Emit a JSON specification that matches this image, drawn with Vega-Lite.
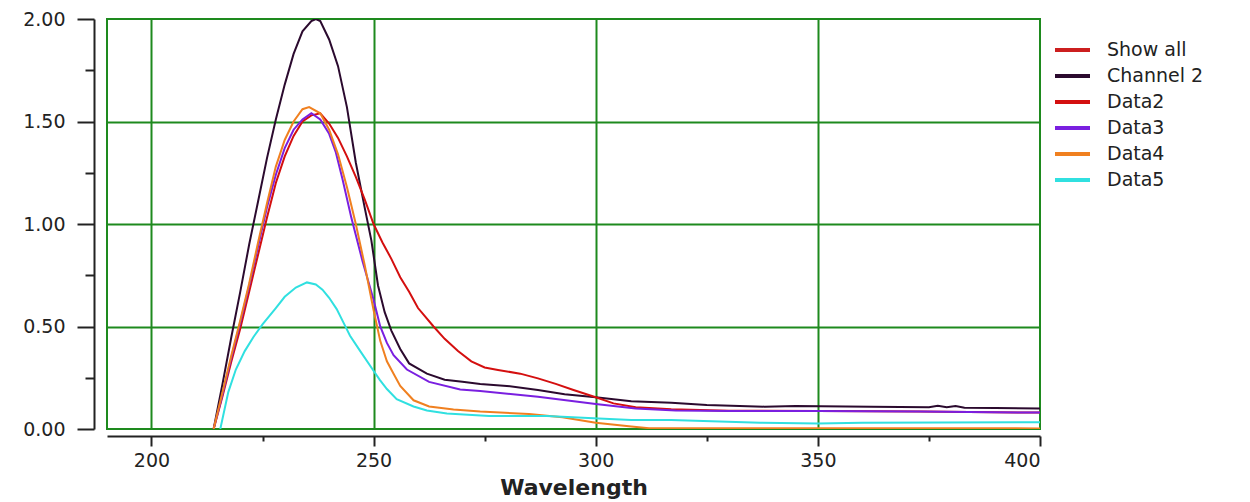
{
  "$schema": "https://vega.github.io/schema/vega-lite/v6.json",
  "width": 933,
  "height": 410,
  "autosize": {"type": "none"},
  "padding": {"left": 107, "top": 19, "right": 210, "bottom": 73},
  "background": "white",
  "config": {
    "view": {"stroke": "#1e8a1e", "strokeWidth": 2},
    "font": "DejaVu Sans"
  },
  "datasets": {
    "spectra": [
      {"series": "Channel 2", "wavelength": 214, "absorbance": 0},
      {"series": "Channel 2", "wavelength": 216, "absorbance": 0.22},
      {"series": "Channel 2", "wavelength": 218, "absorbance": 0.45},
      {"series": "Channel 2", "wavelength": 220, "absorbance": 0.67},
      {"series": "Channel 2", "wavelength": 222, "absorbance": 0.9},
      {"series": "Channel 2", "wavelength": 224, "absorbance": 1.11},
      {"series": "Channel 2", "wavelength": 226, "absorbance": 1.32},
      {"series": "Channel 2", "wavelength": 228, "absorbance": 1.51},
      {"series": "Channel 2", "wavelength": 230, "absorbance": 1.68},
      {"series": "Channel 2", "wavelength": 232, "absorbance": 1.83},
      {"series": "Channel 2", "wavelength": 234, "absorbance": 1.94},
      {"series": "Channel 2", "wavelength": 236, "absorbance": 1.99},
      {"series": "Channel 2", "wavelength": 237, "absorbance": 2.0},
      {"series": "Channel 2", "wavelength": 238, "absorbance": 1.99},
      {"series": "Channel 2", "wavelength": 240, "absorbance": 1.9},
      {"series": "Channel 2", "wavelength": 242, "absorbance": 1.77},
      {"series": "Channel 2", "wavelength": 244, "absorbance": 1.57},
      {"series": "Channel 2", "wavelength": 246, "absorbance": 1.3},
      {"series": "Channel 2", "wavelength": 248, "absorbance": 1.08},
      {"series": "Channel 2", "wavelength": 249.5, "absorbance": 0.92},
      {"series": "Channel 2", "wavelength": 251, "absorbance": 0.7},
      {"series": "Channel 2", "wavelength": 252.5, "absorbance": 0.57},
      {"series": "Channel 2", "wavelength": 254, "absorbance": 0.48},
      {"series": "Channel 2", "wavelength": 256, "absorbance": 0.39},
      {"series": "Channel 2", "wavelength": 258, "absorbance": 0.32},
      {"series": "Channel 2", "wavelength": 262, "absorbance": 0.27},
      {"series": "Channel 2", "wavelength": 266, "absorbance": 0.24},
      {"series": "Channel 2", "wavelength": 270, "absorbance": 0.23},
      {"series": "Channel 2", "wavelength": 274, "absorbance": 0.22},
      {"series": "Channel 2", "wavelength": 280, "absorbance": 0.21},
      {"series": "Channel 2", "wavelength": 287, "absorbance": 0.19},
      {"series": "Channel 2", "wavelength": 293, "absorbance": 0.17},
      {"series": "Channel 2", "wavelength": 300, "absorbance": 0.155},
      {"series": "Channel 2", "wavelength": 308, "absorbance": 0.135},
      {"series": "Channel 2", "wavelength": 317, "absorbance": 0.128},
      {"series": "Channel 2", "wavelength": 325, "absorbance": 0.117},
      {"series": "Channel 2", "wavelength": 338, "absorbance": 0.109},
      {"series": "Channel 2", "wavelength": 345, "absorbance": 0.112},
      {"series": "Channel 2", "wavelength": 362, "absorbance": 0.108},
      {"series": "Channel 2", "wavelength": 375, "absorbance": 0.106},
      {"series": "Channel 2", "wavelength": 377, "absorbance": 0.113},
      {"series": "Channel 2", "wavelength": 379, "absorbance": 0.106},
      {"series": "Channel 2", "wavelength": 381, "absorbance": 0.112},
      {"series": "Channel 2", "wavelength": 383, "absorbance": 0.104},
      {"series": "Channel 2", "wavelength": 390, "absorbance": 0.103},
      {"series": "Channel 2", "wavelength": 400, "absorbance": 0.1},

      {"series": "Data2", "wavelength": 214, "absorbance": 0},
      {"series": "Data2", "wavelength": 216, "absorbance": 0.16},
      {"series": "Data2", "wavelength": 218, "absorbance": 0.33},
      {"series": "Data2", "wavelength": 220, "absorbance": 0.49},
      {"series": "Data2", "wavelength": 222, "absorbance": 0.67},
      {"series": "Data2", "wavelength": 224, "absorbance": 0.85},
      {"series": "Data2", "wavelength": 226, "absorbance": 1.03},
      {"series": "Data2", "wavelength": 228, "absorbance": 1.2},
      {"series": "Data2", "wavelength": 230, "absorbance": 1.33},
      {"series": "Data2", "wavelength": 232, "absorbance": 1.43},
      {"series": "Data2", "wavelength": 234, "absorbance": 1.5},
      {"series": "Data2", "wavelength": 236, "absorbance": 1.53},
      {"series": "Data2", "wavelength": 238, "absorbance": 1.54},
      {"series": "Data2", "wavelength": 240, "absorbance": 1.49},
      {"series": "Data2", "wavelength": 242, "absorbance": 1.42},
      {"series": "Data2", "wavelength": 244, "absorbance": 1.33},
      {"series": "Data2", "wavelength": 246, "absorbance": 1.23},
      {"series": "Data2", "wavelength": 248, "absorbance": 1.12},
      {"series": "Data2", "wavelength": 250, "absorbance": 1.0},
      {"series": "Data2", "wavelength": 252, "absorbance": 0.91},
      {"series": "Data2", "wavelength": 254, "absorbance": 0.83},
      {"series": "Data2", "wavelength": 256, "absorbance": 0.74},
      {"series": "Data2", "wavelength": 258, "absorbance": 0.67},
      {"series": "Data2", "wavelength": 260, "absorbance": 0.59},
      {"series": "Data2", "wavelength": 263.5, "absorbance": 0.5},
      {"series": "Data2", "wavelength": 266, "absorbance": 0.44},
      {"series": "Data2", "wavelength": 269, "absorbance": 0.38},
      {"series": "Data2", "wavelength": 272, "absorbance": 0.33},
      {"series": "Data2", "wavelength": 275, "absorbance": 0.3},
      {"series": "Data2", "wavelength": 278, "absorbance": 0.288},
      {"series": "Data2", "wavelength": 283, "absorbance": 0.27},
      {"series": "Data2", "wavelength": 287, "absorbance": 0.247},
      {"series": "Data2", "wavelength": 291, "absorbance": 0.22},
      {"series": "Data2", "wavelength": 295, "absorbance": 0.19},
      {"series": "Data2", "wavelength": 300, "absorbance": 0.155},
      {"series": "Data2", "wavelength": 304, "absorbance": 0.125},
      {"series": "Data2", "wavelength": 309, "absorbance": 0.106},
      {"series": "Data2", "wavelength": 317, "absorbance": 0.096},
      {"series": "Data2", "wavelength": 330, "absorbance": 0.089},
      {"series": "Data2", "wavelength": 350, "absorbance": 0.088},
      {"series": "Data2", "wavelength": 373, "absorbance": 0.085},
      {"series": "Data2", "wavelength": 400, "absorbance": 0.08},

      {"series": "Data3", "wavelength": 214, "absorbance": 0},
      {"series": "Data3", "wavelength": 216, "absorbance": 0.17},
      {"series": "Data3", "wavelength": 218, "absorbance": 0.35},
      {"series": "Data3", "wavelength": 220, "absorbance": 0.52},
      {"series": "Data3", "wavelength": 222, "absorbance": 0.7},
      {"series": "Data3", "wavelength": 224, "absorbance": 0.89},
      {"series": "Data3", "wavelength": 226, "absorbance": 1.08},
      {"series": "Data3", "wavelength": 228, "absorbance": 1.24},
      {"series": "Data3", "wavelength": 230, "absorbance": 1.37},
      {"series": "Data3", "wavelength": 232, "absorbance": 1.46},
      {"series": "Data3", "wavelength": 234, "absorbance": 1.51},
      {"series": "Data3", "wavelength": 236, "absorbance": 1.54},
      {"series": "Data3", "wavelength": 238, "absorbance": 1.51},
      {"series": "Data3", "wavelength": 240, "absorbance": 1.44},
      {"series": "Data3", "wavelength": 241.5, "absorbance": 1.35},
      {"series": "Data3", "wavelength": 243, "absorbance": 1.22},
      {"series": "Data3", "wavelength": 245, "absorbance": 1.03},
      {"series": "Data3", "wavelength": 247.5, "absorbance": 0.82},
      {"series": "Data3", "wavelength": 250, "absorbance": 0.63},
      {"series": "Data3", "wavelength": 251.5, "absorbance": 0.5},
      {"series": "Data3", "wavelength": 253, "absorbance": 0.42},
      {"series": "Data3", "wavelength": 254.5, "absorbance": 0.36},
      {"series": "Data3", "wavelength": 257.5, "absorbance": 0.29},
      {"series": "Data3", "wavelength": 262.5, "absorbance": 0.23},
      {"series": "Data3", "wavelength": 269.5, "absorbance": 0.193},
      {"series": "Data3", "wavelength": 274, "absorbance": 0.185},
      {"series": "Data3", "wavelength": 287, "absorbance": 0.157},
      {"series": "Data3", "wavelength": 300, "absorbance": 0.122},
      {"series": "Data3", "wavelength": 309, "absorbance": 0.1},
      {"series": "Data3", "wavelength": 318, "absorbance": 0.09},
      {"series": "Data3", "wavelength": 330, "absorbance": 0.088},
      {"series": "Data3", "wavelength": 350, "absorbance": 0.088},
      {"series": "Data3", "wavelength": 373, "absorbance": 0.085},
      {"series": "Data3", "wavelength": 400, "absorbance": 0.08},

      {"series": "Data4", "wavelength": 214, "absorbance": 0},
      {"series": "Data4", "wavelength": 216, "absorbance": 0.18},
      {"series": "Data4", "wavelength": 218, "absorbance": 0.36},
      {"series": "Data4", "wavelength": 220, "absorbance": 0.53},
      {"series": "Data4", "wavelength": 222, "absorbance": 0.71},
      {"series": "Data4", "wavelength": 224, "absorbance": 0.91},
      {"series": "Data4", "wavelength": 226, "absorbance": 1.1},
      {"series": "Data4", "wavelength": 228, "absorbance": 1.28},
      {"series": "Data4", "wavelength": 230, "absorbance": 1.41},
      {"series": "Data4", "wavelength": 232, "absorbance": 1.5},
      {"series": "Data4", "wavelength": 234, "absorbance": 1.56},
      {"series": "Data4", "wavelength": 235.5, "absorbance": 1.57},
      {"series": "Data4", "wavelength": 238, "absorbance": 1.54},
      {"series": "Data4", "wavelength": 240, "absorbance": 1.46},
      {"series": "Data4", "wavelength": 242, "absorbance": 1.34},
      {"series": "Data4", "wavelength": 244, "absorbance": 1.18},
      {"series": "Data4", "wavelength": 246, "absorbance": 1.0},
      {"series": "Data4", "wavelength": 248, "absorbance": 0.8},
      {"series": "Data4", "wavelength": 250, "absorbance": 0.58},
      {"series": "Data4", "wavelength": 251.5, "absorbance": 0.43},
      {"series": "Data4", "wavelength": 253, "absorbance": 0.33},
      {"series": "Data4", "wavelength": 254.5, "absorbance": 0.27},
      {"series": "Data4", "wavelength": 256, "absorbance": 0.21},
      {"series": "Data4", "wavelength": 259, "absorbance": 0.14},
      {"series": "Data4", "wavelength": 262.5, "absorbance": 0.11},
      {"series": "Data4", "wavelength": 268, "absorbance": 0.095},
      {"series": "Data4", "wavelength": 274, "absorbance": 0.085},
      {"series": "Data4", "wavelength": 285, "absorbance": 0.073},
      {"series": "Data4", "wavelength": 292.5, "absorbance": 0.057},
      {"series": "Data4", "wavelength": 300, "absorbance": 0.03},
      {"series": "Data4", "wavelength": 308, "absorbance": 0.012},
      {"series": "Data4", "wavelength": 312, "absorbance": 0.004},
      {"series": "Data4", "wavelength": 400, "absorbance": 0.003},

      {"series": "Data5", "wavelength": 215.5, "absorbance": 0},
      {"series": "Data5", "wavelength": 217.3, "absorbance": 0.18},
      {"series": "Data5", "wavelength": 219, "absorbance": 0.29},
      {"series": "Data5", "wavelength": 221, "absorbance": 0.38},
      {"series": "Data5", "wavelength": 223, "absorbance": 0.45},
      {"series": "Data5", "wavelength": 225, "absorbance": 0.51},
      {"series": "Data5", "wavelength": 228, "absorbance": 0.59},
      {"series": "Data5", "wavelength": 230, "absorbance": 0.645},
      {"series": "Data5", "wavelength": 232.5, "absorbance": 0.69},
      {"series": "Data5", "wavelength": 235, "absorbance": 0.715},
      {"series": "Data5", "wavelength": 237, "absorbance": 0.705},
      {"series": "Data5", "wavelength": 238.5, "absorbance": 0.68},
      {"series": "Data5", "wavelength": 240, "absorbance": 0.64},
      {"series": "Data5", "wavelength": 241.7, "absorbance": 0.585},
      {"series": "Data5", "wavelength": 243.2, "absorbance": 0.52},
      {"series": "Data5", "wavelength": 244.7, "absorbance": 0.455},
      {"series": "Data5", "wavelength": 247, "absorbance": 0.38},
      {"series": "Data5", "wavelength": 249.8, "absorbance": 0.29},
      {"series": "Data5", "wavelength": 251.4, "absorbance": 0.24},
      {"series": "Data5", "wavelength": 253, "absorbance": 0.195},
      {"series": "Data5", "wavelength": 255.2, "absorbance": 0.145},
      {"series": "Data5", "wavelength": 259, "absorbance": 0.11},
      {"series": "Data5", "wavelength": 262, "absorbance": 0.09},
      {"series": "Data5", "wavelength": 266.5, "absorbance": 0.076},
      {"series": "Data5", "wavelength": 276, "absorbance": 0.063},
      {"series": "Data5", "wavelength": 289, "absorbance": 0.063},
      {"series": "Data5", "wavelength": 299.5, "absorbance": 0.052},
      {"series": "Data5", "wavelength": 308, "absorbance": 0.044},
      {"series": "Data5", "wavelength": 317, "absorbance": 0.044},
      {"series": "Data5", "wavelength": 337, "absorbance": 0.031},
      {"series": "Data5", "wavelength": 350, "absorbance": 0.027},
      {"series": "Data5", "wavelength": 360, "absorbance": 0.03},
      {"series": "Data5", "wavelength": 400, "absorbance": 0.033}
    ]
  },
  "data": {"name": "spectra"},
  "layer": [
    {
      "mark": {"type": "line", "strokeWidth": 2, "clip": true},
      "encoding": {
        "x": {
          "field": "wavelength", "type": "quantitative",
          "scale": {"domain": [190, 400], "nice": false, "zero": false},
          "axis": {"orient": "bottom", "values": [200, 250, 300, 350], "grid": true, "gridColor": "#1e8a1e", "gridWidth": 2, "gridOpacity": 1, "domain": false, "ticks": false, "labels": false, "title": null}
        },
        "y": {
          "field": "absorbance", "type": "quantitative",
          "scale": {"domain": [0, 2], "nice": false},
          "axis": {"orient": "left", "values": [0.5, 1, 1.5], "grid": true, "gridColor": "#1e8a1e", "gridWidth": 2, "gridOpacity": 1, "domain": false, "ticks": false, "labels": false, "title": null}
        },
        "color": {
          "field": "series", "type": "nominal",
          "scale": {
            "domain": ["Show all", "Channel 2", "Data2", "Data3", "Data4", "Data5"],
            "range": ["#cc1f1f", "#2b0a2e", "#d40f0f", "#7a1fe0", "#f08020", "#30e0e0"]
          },
          "legend": {
            "orient": "none", "legendX": 946, "legendY": 18, "title": null,
            "symbolType": "stroke", "symbolSize": 1225, "symbolStrokeWidth": 4,
            "clipHeight": 26, "rowPadding": 0, "labelOffset": 15, "padding": 0, "symbolOffset": 0,
            "labelFont": "DejaVu Sans", "labelFontSize": 19, "labelColor": "#222222", "labelLimit": 300
          }
        }
      }
    },
    {
      "mark": {"type": "line", "opacity": 0},
      "encoding": {
        "x": {
          "field": "wavelength", "type": "quantitative",
          "axis": {"orient": "bottom", "offset": 7, "values": [200, 250, 300, 350, 400], "grid": false,
            "domainColor": "#222222", "domainWidth": 2, "tickColor": "#222222", "tickWidth": 2, "tickSize": 10,
            "labelFont": "DejaVu Sans", "labelFontSize": 19, "labelColor": "#222222", "labelPadding": 5,
            "title": "Wavelength", "titleFont": "DejaVu Sans", "titleFontSize": 22, "titleFontWeight": "bold", "titleColor": "#222222", "titlePadding": 7}
        },
        "y": {
          "field": "absorbance", "type": "quantitative",
          "axis": {"orient": "left", "offset": 13, "values": [0, 0.5, 1, 1.5, 2], "format": ".2f", "grid": false,
            "domainColor": "#222222", "domainWidth": 2, "tickColor": "#222222", "tickWidth": 2, "tickSize": 17,
            "labelFont": "DejaVu Sans", "labelFontSize": 19, "labelColor": "#222222", "labelPadding": 12, "title": null}
        }
      }
    },
    {
      "mark": {"type": "line", "opacity": 0},
      "encoding": {
        "x": {
          "field": "wavelength", "type": "quantitative",
          "axis": {"orient": "bottom", "offset": 7, "values": [225, 275, 325, 375], "grid": false, "domain": false,
            "tickColor": "#222222", "tickWidth": 2, "tickSize": 5, "labels": false, "title": null}
        },
        "y": {
          "field": "absorbance", "type": "quantitative",
          "axis": {"orient": "left", "offset": 13, "values": [0.25, 0.75, 1.25, 1.75], "grid": false, "domain": false,
            "tickColor": "#222222", "tickWidth": 2, "tickSize": 9, "labels": false, "title": null}
        }
      }
    }
  ],
  "resolve": {"axis": {"x": "independent", "y": "independent"}}
}
